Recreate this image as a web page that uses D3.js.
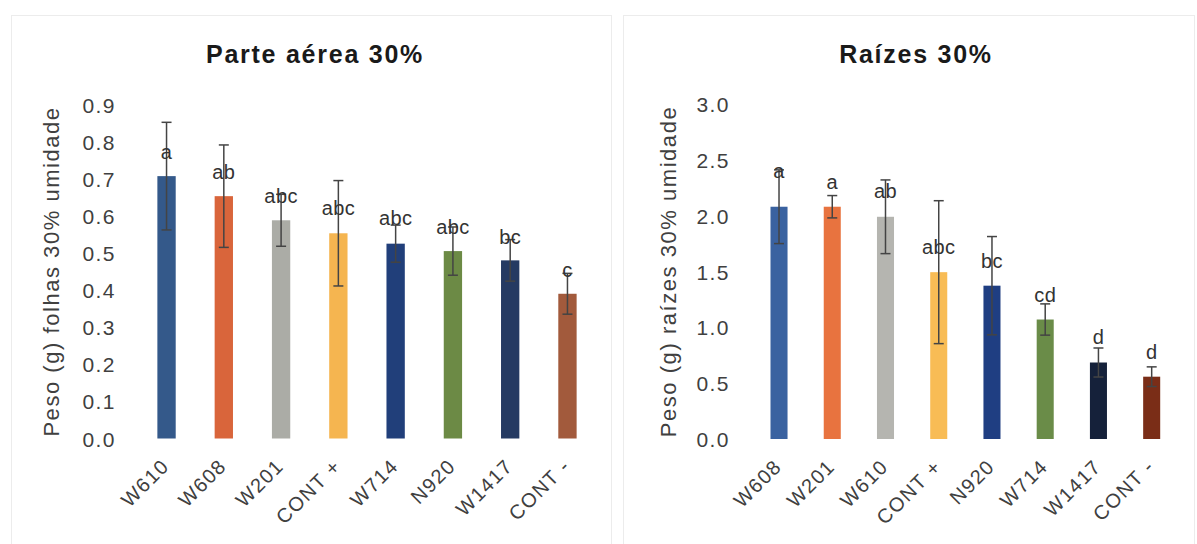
<!DOCTYPE html>
<html>
<head>
<meta charset="utf-8">
<script src="https://cdn.jsdelivr.net/npm/d3@7"></script>
<style>
  body { margin: 0; background: #fff; }
  svg text { font-family: "Liberation Sans", Arial, sans-serif; letter-spacing: 0.07em; }
</style>
</head>
<body>
<script>
// ---- data ----
var aereaCategories = ["W610", "W608", "W201", "CONT +", "W714", "N920", "W1417", "CONT -"];
var aereaValues = [0.707, 0.653, 0.588, 0.553, 0.525, 0.505, 0.480, 0.390];
var aereaErrors = [0.145, 0.138, 0.070, 0.142, 0.050, 0.065, 0.056, 0.055];
var aereaLetters = ["a", "ab", "abc", "abc", "abc", "abc", "bc", "c"];
var aereaLetterY = [0.770, 0.718, 0.653, 0.620, 0.592, 0.569, 0.543, 0.452];
var aereaTicks = [0, 0.1, 0.2, 0.3, 0.4, 0.5, 0.6, 0.7, 0.8, 0.9];

var raizCategories = ["W608", "W201", "W610", "CONT +", "N920", "W714", "W1417", "CONT -"];
var raizValues = [2.08, 2.08, 1.99, 1.494, 1.373, 1.07, 0.685, 0.558];
var raizErrors = [0.33, 0.10, 0.33, 0.64, 0.44, 0.14, 0.13, 0.088];
var raizLetters = ["a", "a", "ab", "abc", "bc", "cd", "d", "d"];
var raizLetterY = [2.397, 2.298, 2.218, 1.717, 1.587, 1.284, 0.912, 0.779];
var raizTicks = [0, 0.5, 1.0, 1.5, 2.0, 2.5, 3.0];

// colours per strain
var aereaColors = ["#34598a", "#d9653b", "#abaca6", "#f5b550", "#213f7a", "#6c8a45", "#253a62", "#a25a3c"];
var raizColors = ["#3a62a0", "#e8733f", "#b5b5b0", "#f8bc55", "#1f3e82", "#6a8c48", "#15213a", "#7a2d17"];

var width = 1197, height = 544;

var svg = d3.select("body").append("svg")
    .attr("width", width)
    .attr("height", height);

// faint panel frames
svg.append("rect").attr("x", 11.5).attr("y", 15.5).attr("width", 600).attr("height", 540)
    .attr("fill", "none").attr("stroke", "#ececec");
svg.append("rect").attr("x", 623.5).attr("y", 15.5).attr("width", 571).attr("height", 540)
    .attr("fill", "none").attr("stroke", "#ececec");

drawPanel({
    title: "Parte aérea 30%", titleX: 315,
    yTitle: "Peso (g) folhas 30% umidade", yTitleX: 51,
    categories: aereaCategories, values: aereaValues, errors: aereaErrors,
    letters: aereaLetters, letterY: aereaLetterY, ticks: aereaTicks, colors: aereaColors,
    xRange: [137.9, 596.1], yDomain: [0, 0.9], yRange: [438.5, 104.5], tickX: 116
});

drawPanel({
    title: "Raízes 30%", titleX: 916,
    yTitle: "Peso (g) raízes 30% umidade", yTitleX: 668,
    categories: raizCategories, values: raizValues, errors: raizErrors,
    letters: raizLetters, letterY: raizLetterY, ticks: raizTicks, colors: raizColors,
    xRange: [752.4, 1178.3], yDomain: [0, 3], yRange: [439, 104], tickX: 730
});

function drawPanel(p) {
    var g = svg.append("g");

    var x = d3.scaleBand()
        .domain(p.categories)
        .range(p.xRange)
        .paddingInner(0.68)
        .paddingOuter(0.34);

    var y = d3.scaleLinear()
        .domain(p.yDomain)
        .range(p.yRange);

    // title
    g.append("text")
        .attr("x", p.titleX).attr("y", 63)
        .attr("text-anchor", "middle")
        .style("font-size", "25px").style("font-weight", "bold")
        .attr("fill", "#1a1a1a")
        .text(p.title);

    // y axis (labels only)
    var yAxis = d3.axisLeft(y)
        .tickValues(p.ticks)
        .tickFormat(d3.format(".1f"))
        .tickSize(0).tickPadding(0);
    var ya = g.append("g")
        .attr("transform", "translate(" + p.tickX + ",0)")
        .call(yAxis);
    ya.select(".domain").remove();
    ya.selectAll("text")
        .style("font-size", "21px")
        .style("font-family", "'Liberation Sans', Arial, sans-serif")
        .attr("fill", "#404040")
        .attr("dy", "0.36em");

    // y axis title
    var midY = (p.yRange[0] + p.yRange[1]) / 2;
    g.append("text")
        .attr("transform", "translate(" + p.yTitleX + "," + midY + ") rotate(-90)")
        .attr("text-anchor", "middle")
        .attr("dy", "0.36em")
        .style("font-size", "22px")
        .attr("fill", "#404040")
        .text(p.yTitle);

    // bars
    g.selectAll(".bar")
        .data(p.values)
        .enter()
        .append("rect")
        .attr("class", "bar")
        .attr("x", function(d, i) { return x(p.categories[i]); })
        .attr("width", x.bandwidth())
        .attr("y", function(d) { return y(d); })
        .attr("height", function(d) { return y(0) - y(d); })
        .attr("fill", function(d, i) { return p.colors[i]; });

    // error bars
    var cap = 5;
    var eb = g.selectAll(".err")
        .data(p.values)
        .enter()
        .append("g")
        .attr("class", "err")
        .attr("stroke", "#444")
        .attr("stroke-width", 1.5);
    eb.append("line")
        .attr("x1", function(d, i) { return x(p.categories[i]) + x.bandwidth() / 2; })
        .attr("x2", function(d, i) { return x(p.categories[i]) + x.bandwidth() / 2; })
        .attr("y1", function(d, i) { return y(d - p.errors[i]); })
        .attr("y2", function(d, i) { return y(d + p.errors[i]); });
    [-1, 1].forEach(function(s) {
        eb.append("line")
            .attr("x1", function(d, i) { return x(p.categories[i]) + x.bandwidth() / 2 - cap; })
            .attr("x2", function(d, i) { return x(p.categories[i]) + x.bandwidth() / 2 + cap; })
            .attr("y1", function(d, i) { return y(d + s * p.errors[i]); })
            .attr("y2", function(d, i) { return y(d + s * p.errors[i]); });
    });

    // significance letters
    g.selectAll(".letter")
        .data(p.letters)
        .enter()
        .append("text")
        .attr("class", "letter")
        .attr("x", function(d, i) { return x(p.categories[i]) + x.bandwidth() / 2; })
        .attr("y", function(d, i) { return y(p.letterY[i]); })
        .attr("dy", "0.33em")
        .attr("text-anchor", "middle")
        .style("font-size", "20px")
        .attr("fill", "#333")
        .style("letter-spacing", "0.02em")
        .text(function(d) { return d; });

    // x axis labels, rotated
    var xAxis = d3.axisBottom(x).tickSize(0).tickPadding(0);
    var xa = g.append("g")
        .attr("transform", "translate(0," + (p.yRange[0] + 19) + ")")
        .call(xAxis);
    xa.select(".domain").remove();
    xa.selectAll("text")
        .style("font-size", "20px")
        .style("font-family", "'Liberation Sans', Arial, sans-serif")
        .attr("fill", "#404040")
        .attr("text-anchor", "end")
        .attr("dy", "0.7em")
        .attr("transform", "translate(-6,0) rotate(-45)");
}
</script>
</body>
</html>
